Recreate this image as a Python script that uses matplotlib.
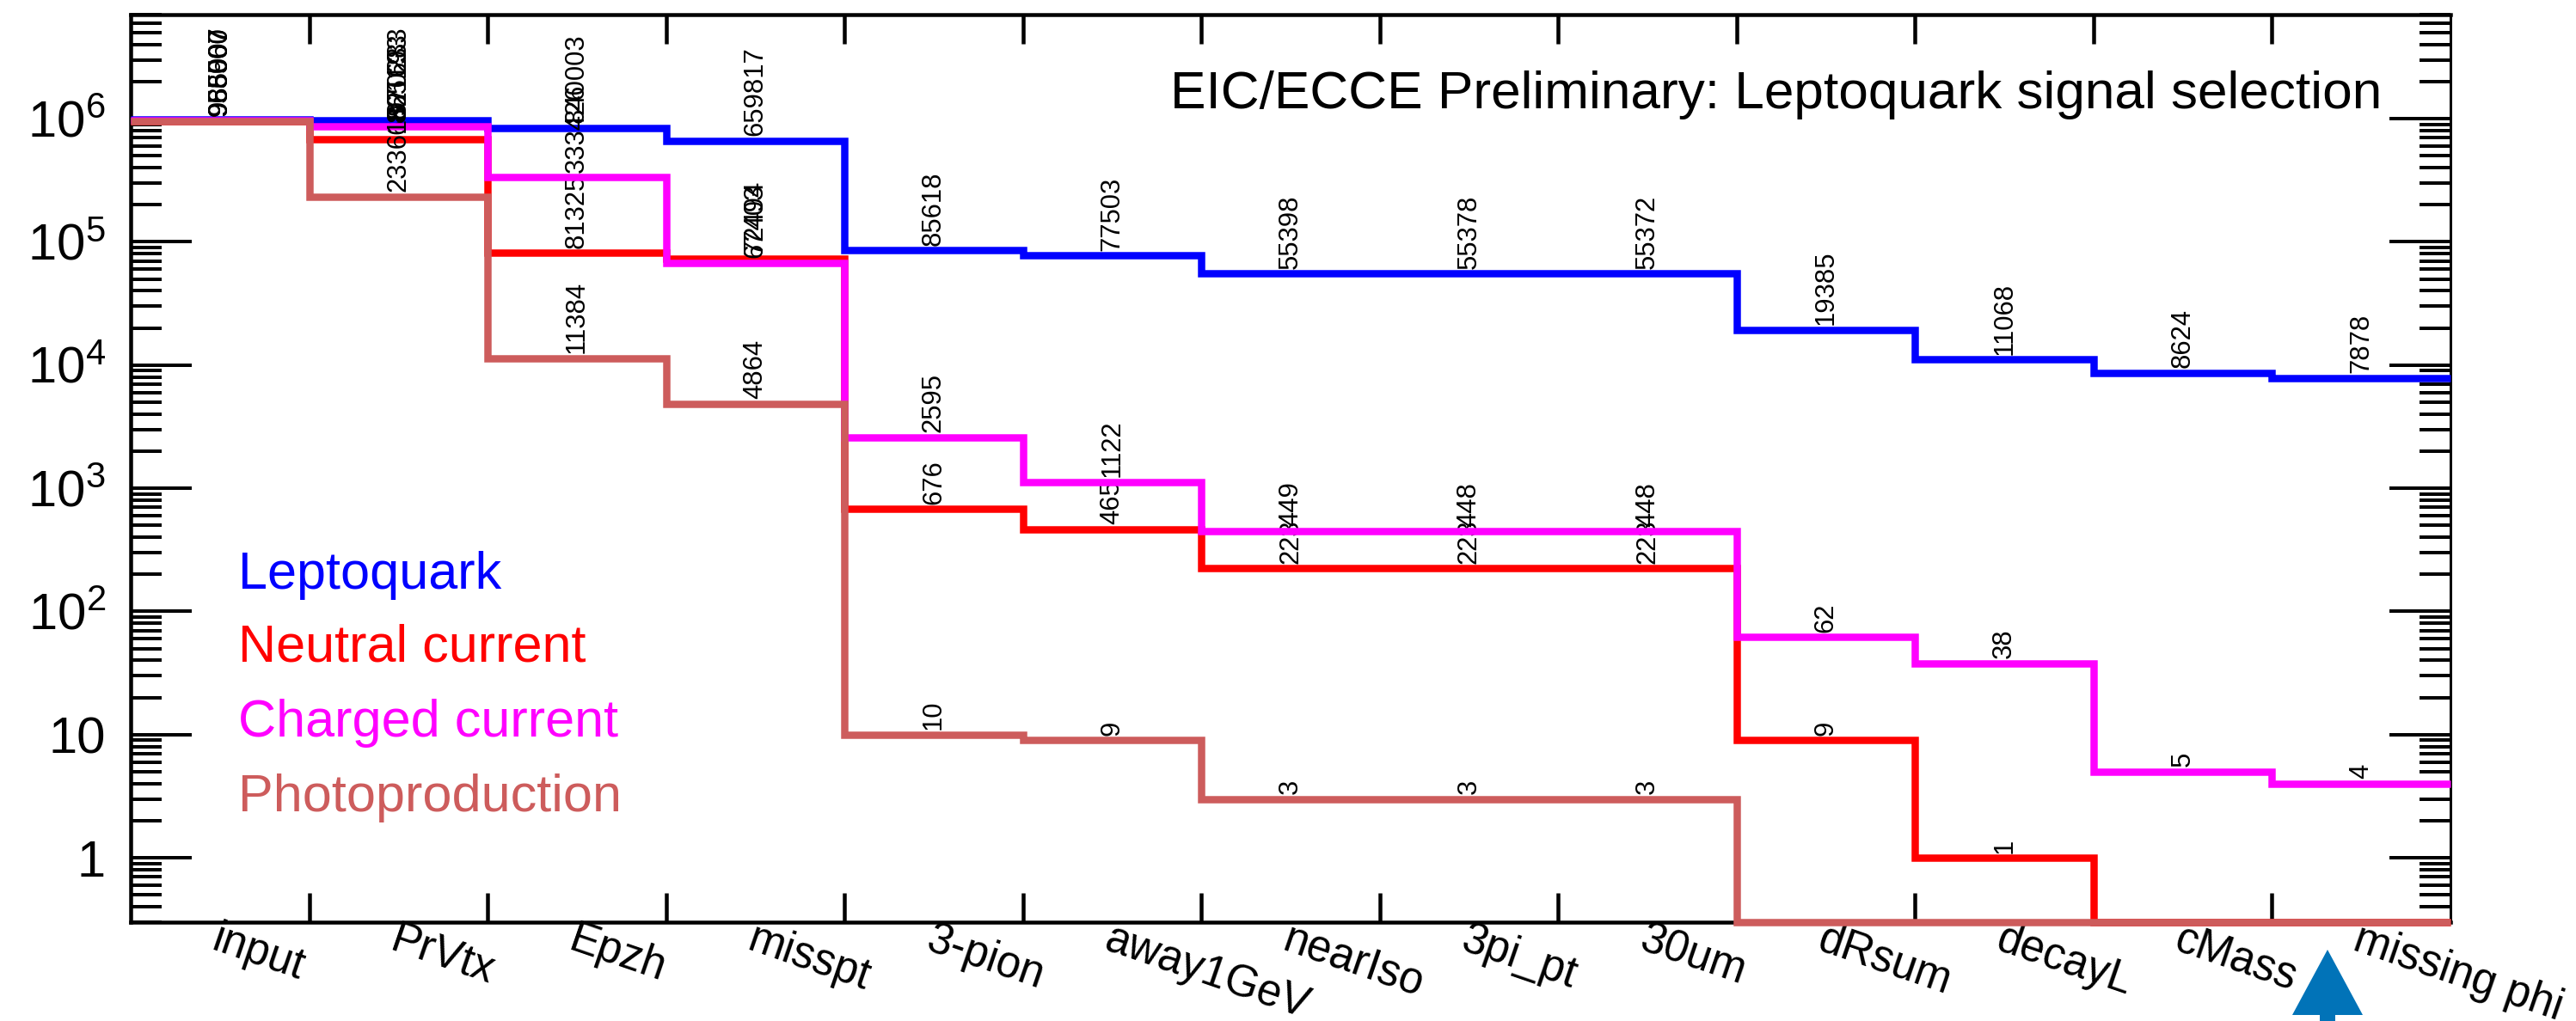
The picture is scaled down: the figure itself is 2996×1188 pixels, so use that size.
import numpy as np
import matplotlib
matplotlib.use("Agg")
import matplotlib.pyplot as plt
from matplotlib.ticker import LogLocator, NullFormatter

plt.rcParams['font.family'] = ['Liberation Sans', 'DejaVu Sans']
plt.rcParams['mathtext.fontset'] = 'custom'
plt.rcParams['mathtext.rm'] = 'Liberation Sans'
plt.rcParams['mathtext.default'] = 'rm'

# selection steps
cuts = ["input", "PrVtx", "Epzh", "misspt", "3-pion", "away1GeV", "nearIso",
        "3pi_pt", "30um", "dRsum", "decayL", "cMass", "missing phi"]

# events left after each cut
leptoquark = [985007, 970283, 840003, 659817, 85618, 77503, 55398, 55378, 55372, 19385, 11068, 8624, 7878]
neutral = [956907, 682163, 81325, 72494, 676, 465, 223, 223, 223, 9, 1, 0, 0]
charged = [965060, 865193, 333426, 67403, 2595, 1122, 449, 448, 448, 62, 38, 5, 4]
photo = [958500, 233618, 11384, 4864, 10, 9, 3, 3, 3, 0, 0, 0, 0]

series_names = ["Leptoquark", "Neutral current", "Charged current", "Photoproduction"]
series_colors = ["#0000ff", "#ff0000", "#ff00ff", "#cd5c5c"]
series_values = [leptoquark, neutral, charged, photo]

ytick_values = [1, 10, 100, 1e3, 1e4, 1e5, 1e6]
ytick_labels = ["1", "10", "$10^2$", "$10^3$", "$10^4$", "$10^5$", "$10^6$"]

W, H = 2996, 1188
px = 72 / 100  # points per pixel at dpi 100
YMIN, YMAX = 0.3, 7.0e6

fig = plt.figure(figsize=(W / 100, H / 100), dpi=100)
left, right, top, bottom = 152, 2850, 17, 1073
ax = fig.add_axes([left / W, 1 - bottom / H, (right - left) / W, (bottom - top) / H])
ax.set_yscale('log')
ax.set_xlim(0, len(cuts))
ax.set_ylim(YMIN, YMAX)

edges = np.arange(len(cuts) + 1)
centers = edges[:-1] + 0.5

# histograms, empty bins sit on the lower frame like in ROOT
for i in range(4):
    vals = np.array(series_values[i], dtype=float)
    drawn = np.maximum(vals, YMIN)
    z = 3 + i
    art = ax.stairs(drawn, edges, baseline=None, color=series_colors[i], linewidth=8.5 * px, zorder=z, clip_on=False)
    art.set_joinstyle('miter')
    art.set_capstyle('butt')
    for x, v in zip(centers, series_values[i]):
        if v > 0:
            ax.annotate(str(v), (x, v), xytext=(0, 4), textcoords='offset points', rotation=90,
                        ha='center', va='bottom', fontsize=31 * px, color='black', zorder=z + 0.5)

# frame and ticks
ax.spines['left'].set_linewidth(4.5 * px)
ax.spines['top'].set_linewidth(4.5 * px)
ax.spines['bottom'].set_linewidth(4.5 * px)
ax.spines['right'].set_linewidth(3 * px)

ax.set_xticks(edges[1:-1])
ax.set_xticklabels([])
ax.tick_params(axis='x', which='major', direction='in', top=True, bottom=True, length=34 * px, width=4.5 * px)
ax.set_yticks(ytick_values)
ax.set_yticklabels(ytick_labels, fontsize=43)
ax.yaxis.set_minor_locator(LogLocator(base=10, subs=np.arange(2, 10), numticks=20))
ax.yaxis.set_minor_formatter(NullFormatter())
ax.tick_params(axis='y', which='major', direction='in', left=True, right=True, length=71 * px, width=4 * px, pad=21)
ax.tick_params(axis='y', which='minor', direction='in', left=True, right=True, length=36 * px, width=4 * px)

# rotated bin labels
for x, name in zip(centers, cuts):
    ax.annotate(name, (x, 0), xycoords=('data', 'axes fraction'), xytext=(1 * px, 4 * px),
                textcoords='offset points', rotation=-19, rotation_mode='anchor', ha='left', va='top',
                fontsize=36.5, annotation_clip=False)

fig.text(2770 / W, 1 - 126 / H, "EIC/ECCE Preliminary: Leptoquark signal selection", fontsize=44.7, ha='right', va='baseline')

legend_y = [685, 770, 857, 944]
for name, col, y in zip(series_names, series_colors, legend_y):
    fig.text(277 / W, 1 - y / H, name, color=col, fontsize=44, ha='left', va='baseline')

# cut arrow under the last bin
ax.annotate('', xy=(2707 / W, 1 - 1105 / H), xycoords='figure fraction', xytext=(2707 / W, 1 - 1190 / H),
            textcoords='figure fraction', annotation_clip=False,
            arrowprops=dict(width=18 * px, headwidth=82 * px, headlength=76 * px, shrink=0, color='#0173b8', linewidth=0))

fig.savefig('out.png', dpi=100)
